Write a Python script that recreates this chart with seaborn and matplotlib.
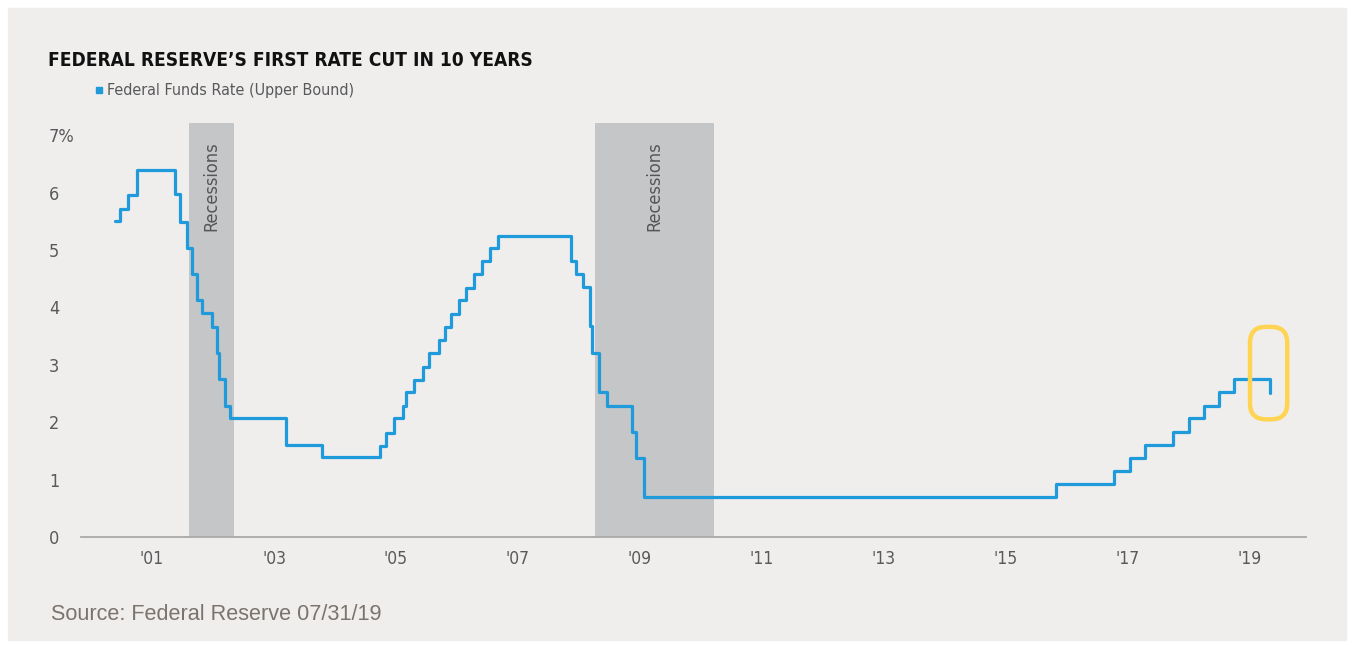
import matplotlib.pyplot as plt
import seaborn as sns
import pandas as pd
from matplotlib.lines import Line2D
from matplotlib.patches import FancyBboxPatch, Rectangle

# start of each step (decimal year) and the level it holds
rate_year = [2000.39, 2000.48, 2000.61, 2000.75, 2001.38, 2001.46, 2001.57, 2001.66,
             2001.74, 2001.82, 2001.98, 2002.07, 2002.10, 2002.20, 2002.28, 2003.19,
             2003.79, 2004.74, 2004.84, 2004.97, 2005.11, 2005.16, 2005.30, 2005.44,
             2005.54, 2005.70, 2005.80, 2005.90, 2006.03, 2006.15, 2006.28, 2006.41,
             2006.54, 2006.67, 2007.87, 2007.95, 2008.07, 2008.18, 2008.21, 2008.33,
             2008.46, 2008.87, 2008.93, 2009.07, 2015.82, 2016.77, 2017.03, 2017.28,
             2017.74, 2018.00, 2018.25, 2018.49, 2018.74, 2019.33]
rate_pct = [5.50, 5.71, 5.96, 6.39, 5.97, 5.49, 5.04, 4.58,
            4.13, 3.90, 3.65, 3.20, 2.75, 2.28, 2.08, 1.60,
            1.39, 1.59, 1.82, 2.07, 2.28, 2.52, 2.74, 2.97,
            3.20, 3.43, 3.65, 3.89, 4.12, 4.34, 4.58, 4.81,
            5.03, 5.25, 4.80, 4.58, 4.36, 3.67, 3.21, 2.53,
            2.29, 1.83, 1.38, 0.70, 0.92, 1.15, 1.38, 1.60,
            1.83, 2.07, 2.29, 2.53, 2.75, 2.51]

recession_start = [2001.61, 2008.26]
recession_end = [2002.34, 2010.21]

year_ticks = list(range(2001, 2020, 2))
year_labels = ["'%02d" % (y % 100) for y in year_ticks]
pct_ticks = list(range(0, 8))
pct_labels = [str(v) for v in pct_ticks[:-1]] + ['7%']

BLUE = '#1f9bdb'
GRAY_TXT = '#58595b'

df = pd.DataFrame({'year': rate_year, 'rate': rate_pct})

sns.set_theme(style='white')
plt.rcParams['font.family'] = ['DejaVu Sans']
plt.rcParams['font.stretch'] = 'condensed'

W, H = 1353, 646
fig = plt.figure(figsize=(W / 100, H / 100), dpi=100, facecolor='white')
fig.patches.append(Rectangle((8 / W, 6 / H), 1338 / W, 632 / H, transform=fig.transFigure,
                             color='#efeeed', zorder=-10))

ax = fig.add_axes([81 / W, 109 / H, 1225 / W, 416.2 / H])
ax.set_facecolor('none')
ax.set_xlim(1999.836, 2019.918)
ax.set_ylim(0, 7.25)

# recession shading
for a, b in zip(recession_start, recession_end):
    ax.axvspan(a, b, ymin=0, ymax=7.22 / 7.25, color='#c5c6c8', lw=0, zorder=0)
    ax.text((a + b) / 2, 6.9, 'Recessions', rotation=90, ha='center', va='top',
            fontsize=13, color='#555555')

sns.lineplot(data=df, x='year', y='rate', ax=ax, color=BLUE, lw=2.3,
             drawstyle='steps-post', estimator=None, sort=False, zorder=3)

# highlight of the latest cut
box = FancyBboxPatch((2019.0, 2.05), 0.61, 1.61,
                     boxstyle='round,pad=0,rounding_size=0.26',
                     mutation_aspect=61 / 57.4, fill=False,
                     ec='#ffd452', lw=3.2, zorder=4, clip_on=False)
ax.add_patch(box)

ax.set_xticks(year_ticks, year_labels)
ax.set_yticks(pct_ticks, pct_labels)
for lab in ax.get_yticklabels():
    lab.set_horizontalalignment('left')
ax.tick_params(axis='x', length=0, pad=9, labelsize=12.5, labelcolor=GRAY_TXT)
ax.tick_params(axis='y', length=0, pad=23, labelsize=13, labelcolor=GRAY_TXT)
ax.set_xlabel('')
ax.set_ylabel('')
for s in ['top', 'right', 'left']:
    ax.spines[s].set_visible(False)
ax.spines['bottom'].set_color('#a9a9a9')
ax.spines['bottom'].set_linewidth(1.3)

fig.text(48 / W, 1 - 60 / H, 'FEDERAL RESERVE\u2019S FIRST RATE CUT IN 10 YEARS',
         fontsize=13.7, weight='bold', color='#111111', va='center')

handle = Line2D([], [], marker='s', ls='', color=BLUE, markersize=4.5)
fig.legend(handles=[handle], labels=['Federal Funds Rate (Upper Bound)'],
           loc='center left', bbox_to_anchor=(93 / W, 1 - 91 / H), frameon=False,
           handlelength=0.7, handletextpad=0.2, borderpad=0, borderaxespad=0,
           fontsize=11.5, labelcolor=GRAY_TXT)

fig.text(51 / W, 1 - 615 / H, 'Source: Federal Reserve 07/31/19',
         family=['Liberation Sans', 'DejaVu Sans'], stretch='normal', fontsize=15.6,
         color='#7b736d', va='center')

fig.savefig('out.png', dpi=100)
